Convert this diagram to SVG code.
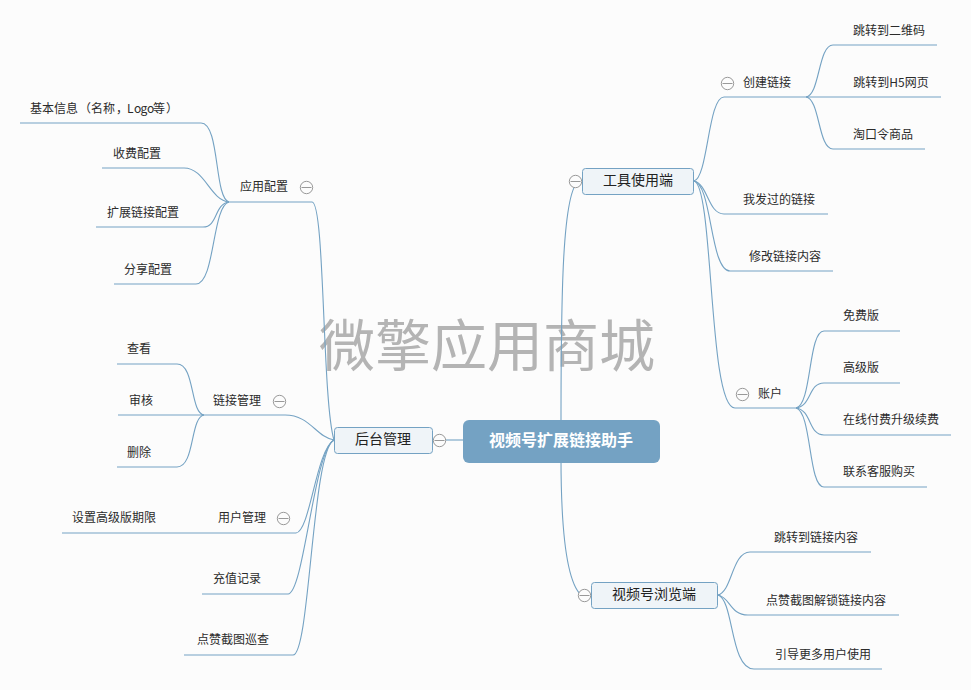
<svg xmlns="http://www.w3.org/2000/svg" width="971" height="690" viewBox="0 0 971 690">
<style>
text{font-family:"Noto Sans CJK SC","Liberation Sans",sans-serif;font-size:12px;fill:#2b2b2b;text-anchor:middle}
.c path{fill:none;stroke:#74a2c3;stroke-width:1.1}
.b{fill:#eff4f8;stroke:#74a2c3;stroke-width:1}
.m{font-size:14px;fill:#222}
.t circle{fill:#fcfcfc;stroke:#999;stroke-width:1}
.t path{stroke:#999;stroke-width:1;fill:none}
</style>
<defs><g id="tg" class="t"><circle r="6.2"/><path d="M-5 0H5"/></g></defs>
<rect width="971" height="690" fill="#fcfcfc"/>
<text x="487" y="366" style="font-size:56px;fill:#b4b4b4">微擎应用商城</text>
<g id="connectors" class="c">
<path d="M561 425C561 300 562 190 579 181"/>
<path d="M561 458C561 520 565 580 581 595"/>
<path d="M445 440H463"/>
<path d="M334 440C316 437 310 415 285 415H204"/>
<path d="M334 440C322 400 325 202 312 202H229"/>
<path d="M334 440C316 450 310 532 296 533H62"/>
<path d="M334 440C314 450 304 593 288 594H202"/>
<path d="M334 440C312 450 310 655 293 655H184"/>
<path d="M229 202C214 198 220 123 201 123H20"/>
<path d="M229 202C210 200 205 168 184 168H102"/>
<path d="M229 202C214 204 218 227 203 227H96"/>
<path d="M229 202C212 206 215 284 196 284H114"/>
<path d="M204 415C190 413 195 364 177 364H117"/>
<path d="M204 415H118"/>
<path d="M204 415C190 417 195 467 177 467H117"/>
<path d="M694 181C708 178 708 97 724 97H806"/>
<path d="M806 97C820 95 818 45 833 45H937"/>
<path d="M806 97H941"/>
<path d="M806 97C820 99 818 149 833 149H925"/>
<path d="M694 181C708 184 708 214 724 214H828"/>
<path d="M694 181C712 184 710 271 730 271H833"/>
<path d="M694 181C714 186 708 408 735 408H796"/>
<path d="M796 408C812 405 808 331 824 331H900"/>
<path d="M796 408C812 406 808 383 824 383H900"/>
<path d="M796 408C812 410 808 435 824 435H951"/>
<path d="M796 408C812 412 808 487 824 487H927"/>
<path d="M718 595C732 592 732 552 750 552H871"/>
<path d="M718 595C730 597 730 615 748 615H899"/>
<path d="M718 595C734 600 730 669 754 669H882"/>
</g>
<g id="root"><rect x="463" y="420" width="197" height="43" rx="6" fill="#74a2c3"/><text x="561" y="446" style="font-size:16px;font-weight:bold;fill:#fff">视频号扩展链接助手</text></g>
<g id="n-admin"><rect class="b" x="334.500" y="427.500" width="98" height="26" rx="3"/><text class="m" x="383" y="444">后台管理</text><use href="#tg" x="439.500" y="440.500"/></g>
<g id="n-tool"><rect class="b" x="582.500" y="168.500" width="111" height="26" rx="3"/><text class="m" x="638" y="185">工具使用端</text><use href="#tg" x="575.500" y="181.500"/></g>
<g id="n-view"><rect class="b" x="591.500" y="582.500" width="126" height="26" rx="3"/><text class="m" x="654" y="599">视频号浏览端</text><use href="#tg" x="584.500" y="595.500"/></g>
<g id="n-app"><text x="264" y="191">应用配置</text><use href="#tg" x="306.500" y="187.500"/></g>
<g id="n-info"><text style="text-anchor:start" x="30 42 54 66 79 91 103 116 127 134 140.500 147 153 166" y="113">基本信息（名称，Logo等）</text></g>
<g id="n-fee"><text x="137" y="158">收费配置</text></g>
<g id="n-ext"><text x="143" y="217">扩展链接配置</text></g>
<g id="n-share"><text x="148" y="274">分享配置</text></g>
<g id="n-link"><text x="237" y="405">链接管理</text><use href="#tg" x="279.500" y="401.500"/></g>
<g id="n-see"><text x="139" y="353">查看</text></g>
<g id="n-audit"><text x="141" y="405">审核</text></g>
<g id="n-del"><text x="139" y="457">删除</text></g>
<g id="n-user"><text x="242" y="522">用户管理</text><use href="#tg" x="283.500" y="518.500"/></g>
<g id="n-exp"><text x="114" y="522">设置高级版期限</text></g>
<g id="n-charge"><text x="237" y="583">充值记录</text></g>
<g id="n-patrol"><text x="233" y="644">点赞截图巡查</text></g>
<g id="n-create"><text x="767" y="87">创建链接</text><use href="#tg" x="727.500" y="83.500"/></g>
<g id="n-qr"><text x="889" y="35">跳转到二维码</text></g>
<g id="n-h5"><text x="891" y="87">跳转到H5网页</text></g>
<g id="n-tao"><text x="883" y="139">淘口令商品</text></g>
<g id="n-sent"><text x="779" y="204">我发过的链接</text></g>
<g id="n-edit"><text x="785" y="261">修改链接内容</text></g>
<g id="n-acc"><text x="770" y="398">账户</text><use href="#tg" x="742.500" y="394.500"/></g>
<g id="n-free"><text x="861" y="320">免费版</text></g>
<g id="n-pro"><text x="861" y="372">高级版</text></g>
<g id="n-pay"><text x="891" y="424">在线付费升级续费</text></g>
<g id="n-kf"><text x="879" y="476">联系客服购买</text></g>
<g id="n-jump"><text x="816" y="542">跳转到链接内容</text></g>
<g id="n-unlock"><text x="826" y="605">点赞截图解锁链接内容</text></g>
<g id="n-guide"><text x="823" y="659">引导更多用户使用</text></g>
</svg>
